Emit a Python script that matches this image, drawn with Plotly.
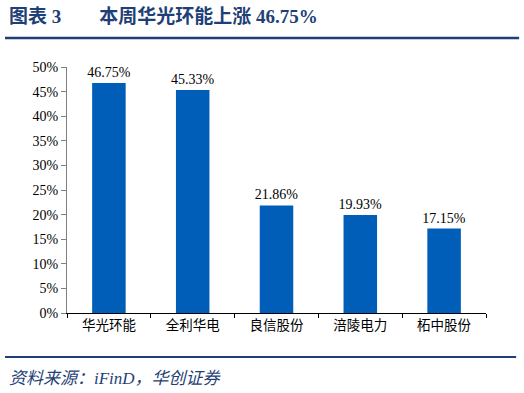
import plotly.graph_objects as go

categories = ["华光环能", "全利华电", "良信股份", "涪陵电力", "柘中股份"]
values = [0.4675, 0.4533, 0.2186, 0.1993, 0.1715]
labels = ["46.75%", "45.33%", "21.86%", "19.93%", "17.15%"]
yticks = [0, 0.05, 0.10, 0.15, 0.20, 0.25, 0.30, 0.35, 0.40, 0.45, 0.50]
yticklabels = ["0%", "5%", "10%", "15%", "20%", "25%", "30%", "35%", "40%", "45%", "50%"]

serif = "Liberation Serif, Noto Sans CJK SC, serif"
cjk = "Noto Sans CJK SC, Liberation Serif"
navy = "#1F3F77"

fig = go.Figure()
fig.add_trace(go.Bar(
    x=categories, y=values, width=0.4,
    marker=dict(color="#005EB8", line=dict(width=0)),
    text=labels, textposition="outside", cliponaxis=False, constraintext="none",
    textfont=dict(family=serif, size=14, color="#000000"),
))

fig.update_layout(
    width=524, height=393,
    margin=dict(l=67, r=38, t=67, b=80),
    paper_bgcolor="white", plot_bgcolor="white",
    showlegend=False,
    bargap=0.6,
    xaxis=dict(
        type="category", showline=True, linecolor="#000000", linewidth=1,
        ticks="outside", tickson="boundaries", ticklen=4, tickcolor="#000000",
        tickfont=dict(family=cjk, size=13.5, color="#000000"),
        showgrid=False, zeroline=False,
    ),
    yaxis=dict(
        range=[0, 0.5], tickvals=yticks, ticktext=yticklabels,
        showline=True, linecolor="#808080", linewidth=1,
        ticks="outside", ticklen=5, tickcolor="#808080",
        tickfont=dict(family=serif, size=14, color="#000000"),
        showgrid=False, zeroline=False,
    ),
    shapes=[
        dict(type="line", xref="paper", yref="paper", x0=-0.148, x1=1.079,
             y0=1.118, y1=1.118, line=dict(color=navy, width=2.5)),
        dict(type="line", xref="paper", yref="paper", x0=-0.148, x1=1.072,
             y0=-0.179, y1=-0.179, line=dict(color=navy, width=2)),
    ],
    annotations=[
        dict(text="<b>图表 3&nbsp;&nbsp;&nbsp;&nbsp;&nbsp;&nbsp;&nbsp;&nbsp;本周华光环能上涨 46.75%</b>", xref="paper", yref="paper",
             x=-0.143, y=1.205, xanchor="left", yanchor="middle", showarrow=False,
             font=dict(family=serif, size=19, color=navy)),
        dict(text="<i>资料来源：iFinD，华创证券</i>", xref="paper", yref="paper",
             x=-0.143, y=-0.265, xanchor="left", yanchor="middle", showarrow=False,
             font=dict(family=serif, size=17, color=navy)),
    ],
)

fig.write_html("out.html")
